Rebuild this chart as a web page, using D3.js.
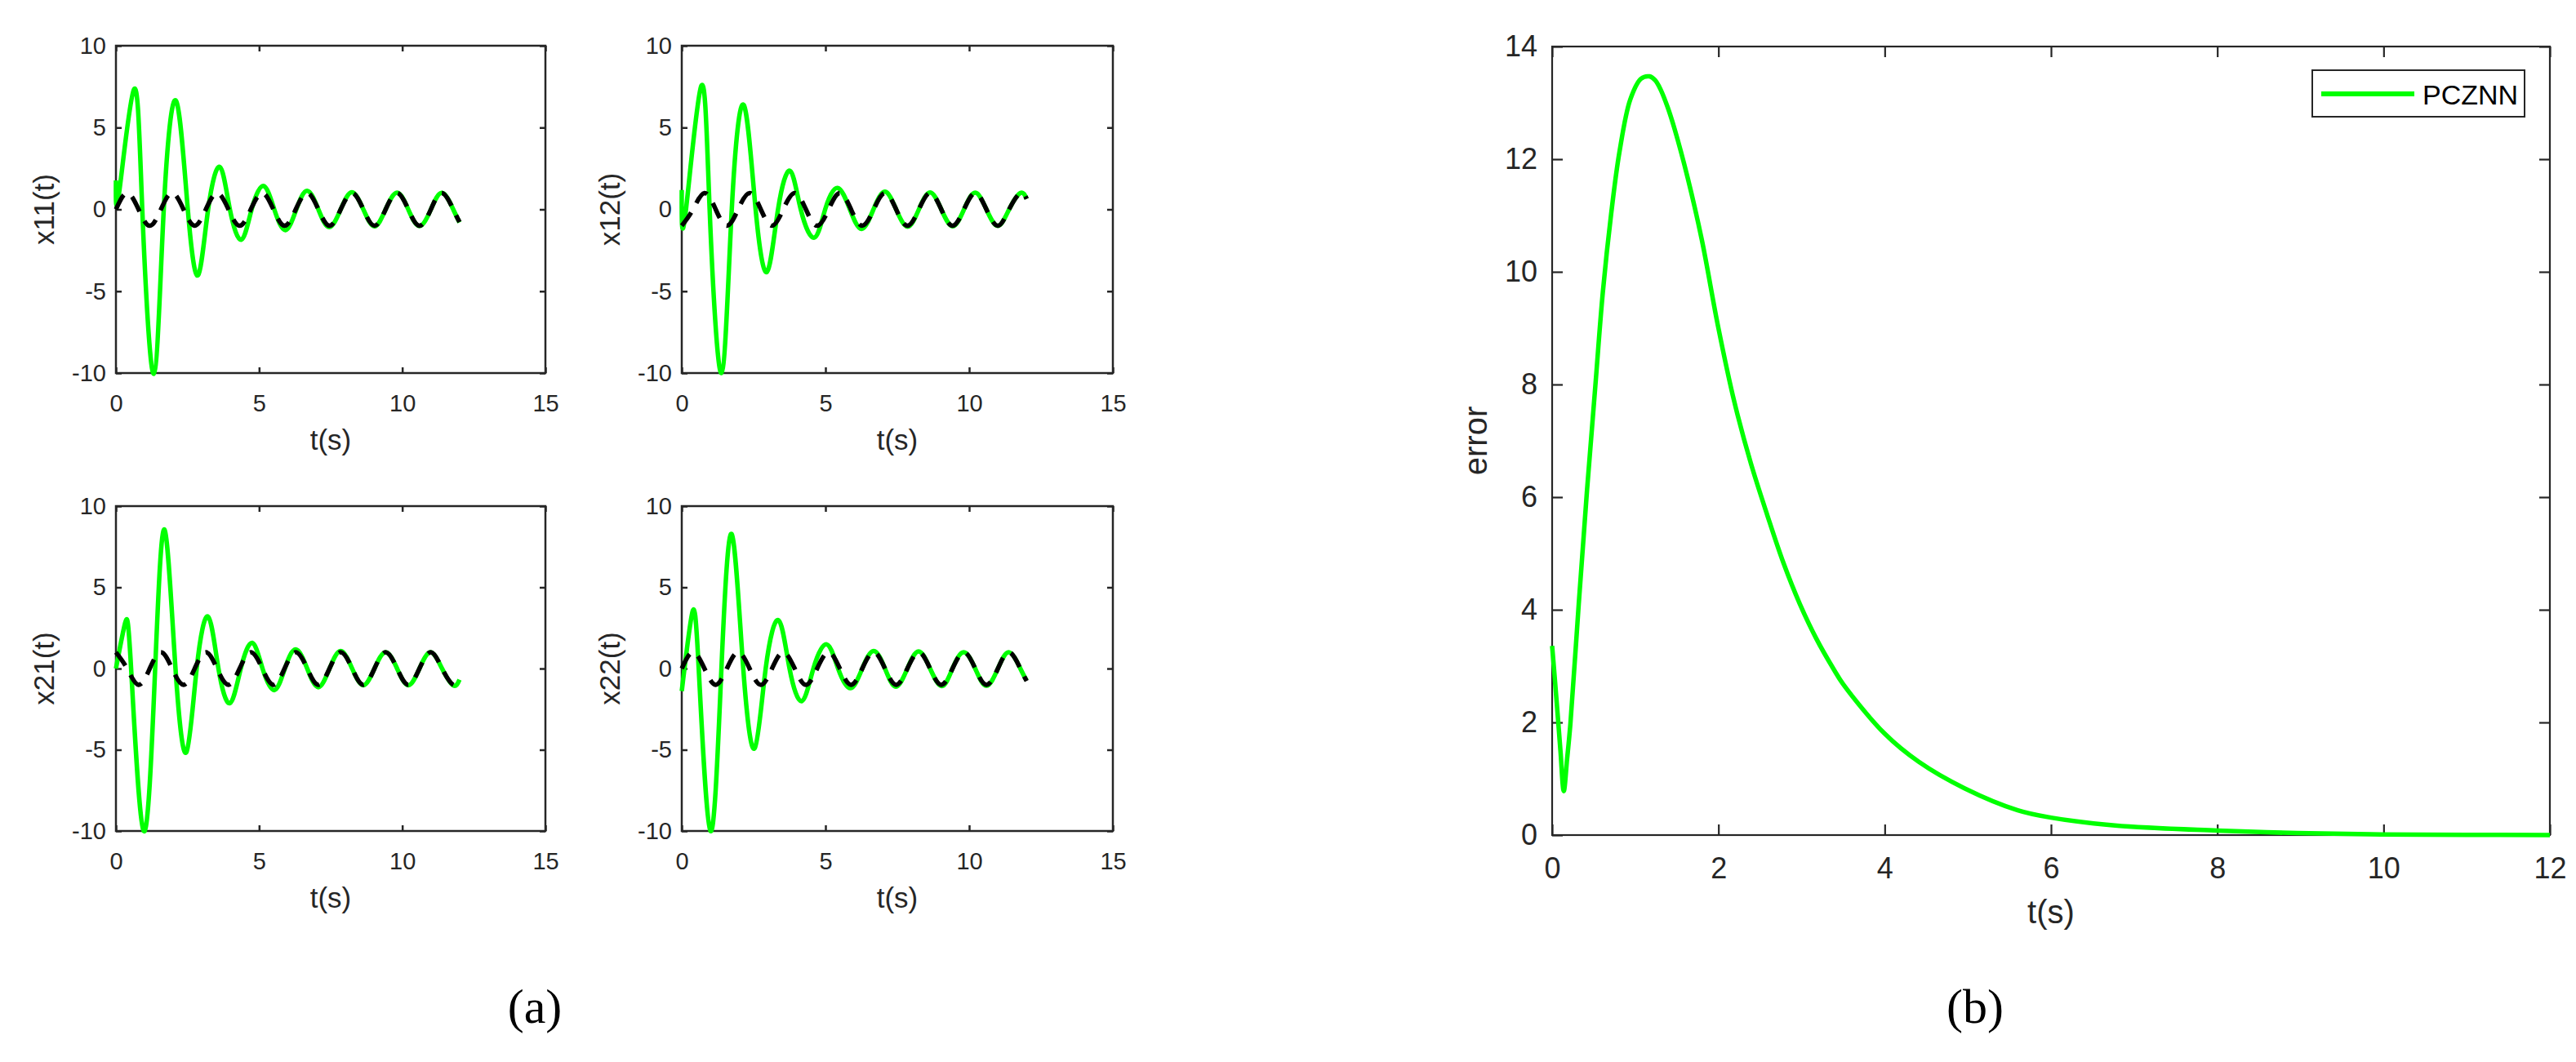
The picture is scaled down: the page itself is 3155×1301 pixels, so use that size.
<!DOCTYPE html>
<html>
<head>
<meta charset="utf-8">
<script src="https://cdn.jsdelivr.net/npm/d3@7"></script>
<style>
  body { margin: 0; background: #fff; }
  svg { display: block; font-family: 'Liberation Sans', Arial, Helvetica, sans-serif; }
</style>
</head>
<body>
<div id="figure"></div>
<script>
const width = 3155;
const height = 1301;

// desired solution (black dashed), read at its peaks and zero crossings
const refT = [0, 0.39, 0.79, 1.18, 1.57, 1.96, 2.36, 2.75, 3.14, 3.53, 3.93, 4.32, 4.71, 5.11, 5.50, 5.89,
  6.28, 6.68, 7.07, 7.46, 7.85, 8.25, 8.64, 9.03, 9.42, 9.82, 10.21, 10.60, 11.00, 11.39, 11.78, 12.0];
const x11Ref = [0, 1, 0, -1, 0, 1, 0, -1, 0, 1, 0, -1, 0, 1, 0, -1,
  0, 1, 0, -1, 0, 1, 0, -1, 0, 1, 0, -1, 0, 1, 0, -0.77];
const x12Ref = [-1, 0, 1, 0, -1, 0, 1, 0, -1, 0, 1, 0, -1, 0, 1, 0,
  -1, 0, 1, 0, -1, 0, 1, 0, -1, 0, 1, 0, -1, 0, 1, 0.64];
const x21Ref = [1, 0, -1, 0, 1, 0, -1, 0, 1, 0, -1, 0, 1, 0, -1, 0,
  1, 0, -1, 0, 1, 0, -1, 0, 1, 0, -1, 0, 1, 0, -1, -0.64];
const x22Ref = [0, 1, 0, -1, 0, 1, 0, -1, 0, 1, 0, -1, 0, 1, 0, -1,
  0, 1, 0, -1, 0, 1, 0, -1, 0, 1, 0, -1, 0, 1, 0, -0.77];

// PCZNN state (green), read at extremes and zero crossings
const x11T = [0, 0.11, 0.63, 0.92, 1.32, 1.67, 2.10, 2.51, 2.87, 3.22, 3.63, 3.98, 4.38, 4.74, 5.15, 5.53,
  5.92, 6.30, 6.68, 7.07, 7.45, 7.85, 8.24, 8.64, 9.03, 9.42, 9.82, 10.21, 10.6, 11.0, 11.39, 11.78, 12.0];
const x11 = [1.77, 1.0, 7.33, 0, -10.05, 0, 6.63, 0, -4.02, 0, 2.59, 0, -1.85, 0, 1.43, 0,
  -1.27, 0, 1.14, 0, -1.09, 0, 1.05, 0, -1.04, 0, 1.02, 0, -1.02, 0, 1.01, 0, -0.8];

const x12T = [0, 0.12, 0.67, 0.97, 1.38, 1.74, 2.16, 2.57, 2.97, 3.35, 3.77, 4.14, 4.61, 4.99, 5.42,
  5.85, 6.26, 6.67, 7.07, 7.46, 7.86, 8.25, 8.64, 9.03, 9.43, 9.82, 10.21, 10.6, 11.0, 11.39, 11.78, 12.0];
const x12 = [1.18, -0.4, 7.5, 0, -10, 0, 6.37, 0, -3.81, 0, 2.35, 0, -1.73, 0, 1.31,
  0, -1.2, 0, 1.08, 0, -1.06, 0, 1.03, 0, -1.03, 0, 1.02, 0, -1.01, 0, 1.0, 0.64];

const x21T = [0, 0.32, 0.53, 0.97, 1.37, 1.70, 2.08, 2.46, 2.82, 3.22, 3.58, 3.98, 4.36, 4.76, 5.12, 5.53,
  5.9, 6.28, 6.68, 7.07, 7.46, 7.85, 8.25, 8.64, 9.03, 9.42, 9.82, 10.21, 10.6, 10.99, 11.39, 11.78, 12.0];
const x21 = [0, 2.8, 0, -10, 0, 8.54, 0, -5.15, 0, 3.19, 0, -2.13, 0, 1.58, 0, -1.33,
  0, 1.18, 0, -1.15, 0, 1.08, 0, -1.03, 0, 1.0, 0, -1.03, 0, 1.0, 0, -1.04, -0.68];

const x22T = [0, 0.36, 0.59, 1.0, 1.38, 1.74, 2.14, 2.54, 2.92, 3.37, 3.75, 4.18, 4.58, 5.04, 5.44, 5.87,
  6.28, 6.68, 7.07, 7.45, 7.85, 8.24, 8.64, 9.05, 9.42, 9.81, 10.21, 10.6, 11.0, 11.39, 11.78, 12.0];
const x22 = [-1.39, 3.39, 0, -10, 0, 8.27, 0, -4.9, 0, 2.97, 0, -2.0, 0, 1.49, 0, -1.21,
  0, 1.08, 0, -1.12, 0, 1.05, 0, -1.08, 0, 1.0, 0, -1.06, 0, 1.0, 0, -0.74];

// residual error of PCZNN
const errT = [0, 0.05, 0.10, 0.14, 0.18, 0.22, 0.32, 0.42, 0.52, 0.61, 0.71, 0.81, 0.94, 1.07, 1.17, 1.24,
  1.31, 1.39, 1.47, 1.63, 1.80, 2.0, 2.19, 2.39, 2.59, 2.78, 2.98, 3.18, 3.38, 3.5, 4.0, 4.41, 4.96, 5.6,
  6.0, 6.77, 8.0, 8.96, 9.97, 11.0, 12.0];
const errV = [3.36, 2.45, 1.5, 0.78, 1.35, 1.98, 4.1, 6.13, 7.98, 9.64, 11.03, 12.13, 13.06, 13.43, 13.47, 13.40,
  13.22, 12.92, 12.55, 11.67, 10.57, 9.0, 7.7, 6.6, 5.67, 4.84, 4.1, 3.48, 2.96, 2.68, 1.8, 1.3, 0.83, 0.44,
  0.31, 0.17, 0.08, 0.035, 0.012, 0.004, 0.0];

const stateXTicks = [0, 5, 10, 15];
const stateYTicks = [-10, -5, 0, 5, 10];
const errXTicks = [0, 2, 4, 6, 8, 10, 12];
const errYTicks = [0, 2, 4, 6, 8, 10, 12, 14];

const stateNames = ['x11(t)', 'x12(t)', 'x21(t)', 'x22(t)'];
const stateT = [x11T, x12T, x21T, x22T];
const stateV = [x11, x12, x21, x22];
const stateRef = [x11Ref, x12Ref, x21Ref, x22Ref];
const legendName = 'PCZNN';

// layout: [left, top, right, bottom]
const stateBoxes = [[142, 56, 668, 457], [835, 56, 1363, 457], [142, 620, 668, 1018], [835, 620, 1363, 1018]];
const errBox = [1901, 57, 3123, 1023];

const axisColor = '#262626';
const green = '#00ff00';

const svg = d3.select('#figure').append('svg')
  .attr('width', width)
  .attr('height', height)
  .attr('viewBox', `0 0 ${width} ${height}`);

svg.append('rect').attr('width', width).attr('height', height).attr('fill', '#fff');

function frame (g, x, y, xTicks, yTicks, o) {
  const [x0, x1] = x.range();
  const [y0, y1] = y.range();
  const fmt = d => String(d);
  const style = sel => {
    sel.attr('font-family', null).attr('font-size', null);
    sel.select('.domain').remove();
    sel.selectAll('line').attr('stroke', axisColor).attr('stroke-width', o.stroke);
    sel.selectAll('text').attr('fill', axisColor).attr('font-size', o.tickFont);
  };
  g.append('g').attr('transform', `translate(0,${y0})`)
    .call(d3.axisBottom(x).tickValues(xTicks).tickFormat(fmt).tickSize(-o.tick).tickPadding(o.padX))
    .call(style);
  g.append('g').attr('transform', `translate(0,${y1})`)
    .call(d3.axisTop(x).tickValues(xTicks).tickFormat(() => '').tickSize(-o.tick))
    .call(style);
  g.append('g').attr('transform', `translate(${x0},0)`)
    .call(d3.axisLeft(y).tickValues(yTicks).tickFormat(fmt).tickSize(-o.tick).tickPadding(o.padY))
    .call(style);
  g.append('g').attr('transform', `translate(${x1},0)`)
    .call(d3.axisRight(y).tickValues(yTicks).tickFormat(() => '').tickSize(-o.tick))
    .call(style);
  g.append('rect')
    .attr('x', x0).attr('y', y1)
    .attr('width', x1 - x0).attr('height', y0 - y1)
    .attr('fill', 'none')
    .attr('stroke', axisColor)
    .attr('stroke-width', o.stroke);
}

function axisLabels (g, box, xText, yText, o) {
  const [l, t, r, b] = box;
  g.append('text')
    .attr('x', (l + r) / 2)
    .attr('y', b + o.xOff)
    .attr('text-anchor', 'middle')
    .attr('font-size', o.labelFont)
    .attr('fill', axisColor)
    .text(xText);
  g.append('text')
    .attr('transform', `translate(${l - o.yOff},${(t + b) / 2}) rotate(-90)`)
    .attr('text-anchor', 'middle')
    .attr('font-size', o.labelFont)
    .attr('fill', axisColor)
    .text(yText);
}

// (a) four state panels
stateBoxes.forEach((box, i) => {
  const [l, t, r, b] = box;
  const g = svg.append('g');
  const x = d3.scaleLinear().domain([0, 15]).range([l, r]);
  const y = d3.scaleLinear().domain([-10, 10]).range([b, t]);
  const line = d3.line()
    .x(d => x(d[0]))
    .y(d => y(d[1]))
    .curve(d3.curveNatural);

  frame(g, x, y, stateXTicks, stateYTicks, { tick: 7, stroke: 2.5, tickFont: 29, padX: 26, padY: 12 });

  g.append('path')
    .datum(d3.zip(stateT[i], stateV[i]))
    .attr('d', line)
    .attr('fill', 'none')
    .attr('stroke', green)
    .attr('stroke-width', 5.5);

  g.append('path')
    .datum(d3.zip(refT, stateRef[i]))
    .attr('d', line)
    .attr('fill', 'none')
    .attr('stroke', '#000')
    .attr('stroke-width', 5.5)
    .attr('stroke-dasharray', '20,13');

  axisLabels(g, box, 't(s)', stateNames[i], { labelFont: 35, xOff: 94, yOff: 76 });
});

// (b) error panel
{
  const [l, t, r, b] = errBox;
  const g = svg.append('g');
  const x = d3.scaleLinear().domain([0, 12]).range([l, r]);
  const y = d3.scaleLinear().domain([0, 14]).range([b, t]);
  const line = d3.line()
    .x(d => x(d[0]))
    .y(d => y(d[1]))
    .curve(d3.curveCatmullRom.alpha(0.5));

  frame(g, x, y, errXTicks, errYTicks, { tick: 13, stroke: 2.2, tickFont: 36, padX: 27, padY: 18 });

  g.append('path')
    .datum(d3.zip(errT, errV))
    .attr('d', line)
    .attr('fill', 'none')
    .attr('stroke', green)
    .attr('stroke-width', 5.5);

  axisLabels(g, errBox, 't(s)', 'error', { labelFont: 40, xOff: 108, yOff: 80 });

  // legend
  const lg = g.append('g').attr('transform', `translate(${r - 291},${t + 29})`);
  lg.append('rect')
    .attr('width', 260).attr('height', 57)
    .attr('fill', '#fff')
    .attr('stroke', axisColor)
    .attr('stroke-width', 2);
  lg.append('line')
    .attr('x1', 11).attr('x2', 125)
    .attr('y1', 29).attr('y2', 29)
    .attr('stroke', green)
    .attr('stroke-width', 6);
  lg.append('text')
    .attr('x', 135).attr('y', 42)
    .attr('font-size', 34)
    .attr('fill', '#000')
    .text(legendName);
}

// sub-figure captions
[['(a)', 655], ['(b)', 2419]].forEach(([txt, cx]) => {
  svg.append('text')
    .attr('x', cx)
    .attr('y', 1253)
    .attr('text-anchor', 'middle')
    .attr('font-family', "'Liberation Serif', 'Times New Roman', serif")
    .attr('font-size', 60)
    .attr('fill', '#000')
    .text(txt);
});
</script>
</body>
</html>
